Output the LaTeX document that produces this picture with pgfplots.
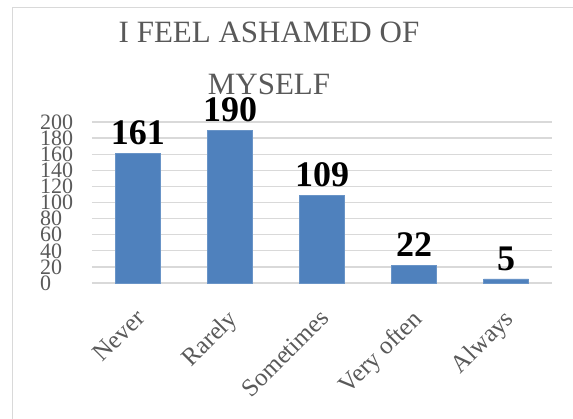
\documentclass[border=0pt]{standalone}
\usepackage{fontspec}
\setmainfont{Liberation Serif}
\usepackage{pgfplots}
\pgfplotsset{compat=1.18}
\definecolor{barblue}{HTML}{4F81BD}
\definecolor{gridgray}{HTML}{D9D9D9}
\definecolor{textgray}{HTML}{595959}
\begin{document}
\begin{tikzpicture}
\useasboundingbox (0,0) rectangle (573pt,419pt);
% chart frame
\draw[gridgray, line width=1pt] (12pt,-10pt) -- (12pt,411pt) -- (590pt,411pt);
% title
\node[anchor=base, text=textgray, font=\fontsize{31}{31}\selectfont] at (269pt,376pt) {I FEEL ASHAMED OF};
\node[anchor=base, text=textgray, font=\fontsize{31}{31}\selectfont] at (269pt,324pt) {MYSELF};
\begin{axis}[
  at={(92pt,136pt)}, anchor=south west,
  scale only axis, width=460pt, height=161pt,
  ymin=0, ymax=200, ytick={0,20,...,200},
  xmin=-0.5, xmax=4.5,
  xtick=data,
  xticklabels={Never,Rarely,Sometimes,Very often,Always},
  /pgf/number format/assume math mode=true,
  axis line style={draw=none},
  tick style={draw=none},
  ymajorgrids, grid style={gridgray, line width=1.3pt},
  yticklabel style={anchor=west, inner sep=0pt, xshift=-52pt, text=textgray, font=\fontsize{22}{22}\selectfont},
  xticklabel style={rotate=45, anchor=north east, inner sep=0pt, xshift=-17pt, yshift=-12pt, text=textgray, font=\fontsize{25}{25}\selectfont},
  ybar, bar width=45pt,
  clip=false,
  nodes near coords,
  every node near coord/.append style={anchor=south, inner sep=0pt, yshift=8pt, text=black, font=\bfseries\fontsize{36}{36}\selectfont},
]
\addplot[fill=barblue, draw=barblue!85!white, line width=0.6pt] coordinates {(0,161) (1,190) (2,109) (3,22) (4,5)};
\end{axis}
\end{tikzpicture}
\end{document}
